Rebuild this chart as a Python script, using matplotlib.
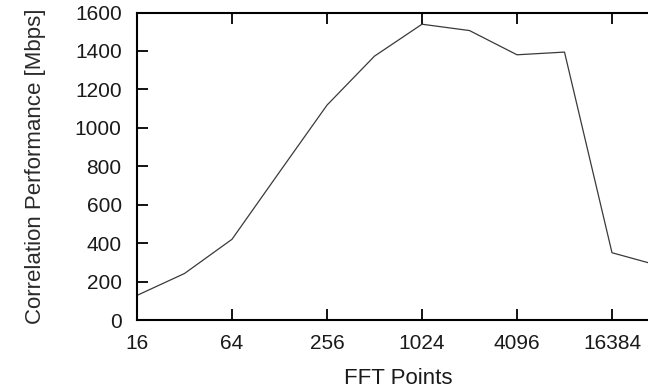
import matplotlib.pyplot as plt

plt.rcParams['font.family'] = ['Liberation Sans', 'DejaVu Sans']

# FFT sizes and measured correlation performance
fft_points = [16, 32, 64, 128, 256, 512, 1024, 2048, 4096, 8192, 16384, 32768]
performance = [128, 242, 420, 770, 1118, 1373, 1539, 1506, 1380, 1394, 350, 282]

x_ticks = [16, 64, 256, 1024, 4096, 16384]
y_ticks = [0, 200, 400, 600, 800, 1000, 1200, 1400, 1600]

fig = plt.figure(figsize=(6.48, 3.91), dpi=100)
ax = fig.add_axes([137 / 648, 71 / 391, 522.5 / 648, 307.5 / 391])

ax.plot(fft_points, performance, color='#3a3a3a', linewidth=0.9)

ax.set_xscale('log', base=2)
ax.set_xlim(16, 32768)
ax.set_ylim(0, 1600)
ax.set_xticks(x_ticks)
ax.set_xticklabels([str(v) for v in x_ticks])
ax.set_yticks(y_ticks)
ax.minorticks_off()

ax.tick_params(axis='x', direction='in', length=8, width=1.3, labelsize=15,
               pad=10, top=True, labelcolor='#1a1a1a')
ax.tick_params(axis='y', direction='in', length=8, width=1.3, labelsize=15,
               pad=11, labelcolor='#1a1a1a')
for s in ax.spines.values():
    s.set_linewidth(1.5)

ax.set_xlabel('FFT Points', fontsize=16, labelpad=11, color='#1a1a1a')
ax.set_ylabel('Correlation Performance [Mbps]', fontsize=16, labelpad=21,
              color='#2a2a2a')

fig.savefig('out.png', dpi=100)
